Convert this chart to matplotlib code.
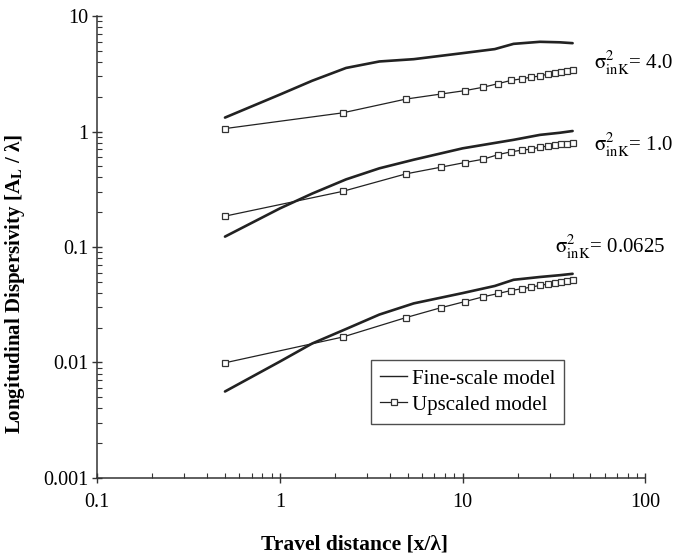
import matplotlib
matplotlib.use("Agg")
import matplotlib.pyplot as plt
from matplotlib.lines import Line2D
from matplotlib.ticker import LogLocator, NullFormatter, FixedLocator, FixedFormatter

plt.rcParams["font.family"] = ["Liberation Serif", "DejaVu Serif"]
plt.rcParams["mathtext.fontset"] = "stix"

# Upscaled model (square markers)
x_up = [0.5, 2.2, 4.9, 7.6, 10.3, 13.0, 15.7, 18.4, 21.1, 23.8, 26.5, 29.2, 31.9, 34.6, 37.3, 40.0]
up_40 = [1.06, 1.45, 1.91, 2.11, 2.26, 2.42, 2.60, 2.77, 2.86, 2.96, 3.02, 3.14, 3.20, 3.29, 3.33, 3.40]
up_10 = [0.185, 0.303, 0.430, 0.491, 0.539, 0.576, 0.632, 0.667, 0.690, 0.704, 0.733, 0.747, 0.762, 0.778, 0.787, 0.798]
up_00625 = [0.00994, 0.0166, 0.0245, 0.0298, 0.0337, 0.0371, 0.0396, 0.0420, 0.0435, 0.0450, 0.0465, 0.0477,
            0.0490, 0.0500, 0.0510, 0.0523]

# Fine-scale model (solid lines)
x_fine = [0.5, 1.0, 1.5, 2.3, 3.5, 5.4, 10, 15, 19, 26.5, 34, 40]
fine_40 = [1.32, 2.09, 2.75, 3.55, 4.04, 4.23, 4.77, 5.17, 5.74, 5.98, 5.92, 5.82]
fine_10 = [0.123, 0.216, 0.290, 0.385, 0.48, 0.57, 0.715, 0.796, 0.847, 0.935, 0.975, 1.01]
fine_00625 = [0.00561, 0.0102, 0.0146, 0.0195, 0.026, 0.0325, 0.0399, 0.046, 0.052, 0.055, 0.057, 0.0586]

x_ticks = [0.1, 1, 10, 100]
x_tick_labels = ["0.1", "1", "10", "100"]
y_ticks = [0.001, 0.01, 0.1, 1, 10]
y_tick_labels = ["0.001", "0.01", "0.1", "1", "10"]

fig = plt.figure(figsize=(6.74, 5.56), dpi=100)
ax = fig.add_axes([0.1444, 0.1403, 0.813, 0.8309])

for fine in [fine_40, fine_10, fine_00625]:
    ax.plot(x_fine, fine, color="#222222", lw=1.9, solid_capstyle="round")
for up in [up_40, up_10, up_00625]:
    ax.plot(x_up, up, color="#222222", lw=0.9, marker="s", markersize=5,
            markerfacecolor="white", markeredgecolor="#333333", markeredgewidth=0.9)

ax.set_xscale("log")
ax.set_yscale("log")
ax.set_xlim(0.1, 100)
ax.set_ylim(0.001, 10)

ax.xaxis.set_major_locator(FixedLocator(x_ticks))
ax.xaxis.set_major_formatter(FixedFormatter(x_tick_labels))
ax.yaxis.set_major_locator(FixedLocator(y_ticks))
ax.yaxis.set_major_formatter(FixedFormatter(y_tick_labels))
ax.xaxis.set_minor_locator(LogLocator(base=10, subs=range(2, 10)))
ax.yaxis.set_minor_locator(LogLocator(base=10, subs=range(2, 10)))
ax.xaxis.set_minor_formatter(NullFormatter())
ax.yaxis.set_minor_formatter(NullFormatter())

for side in ["top", "right"]:
    ax.spines[side].set_visible(False)
for side in ["left", "bottom"]:
    ax.spines[side].set_linewidth(1.1)
    ax.spines[side].set_color("#333333")

ax.tick_params(which="major", direction="inout", length=7, width=1.0, labelsize=14.5, color="#333333")
ax.tick_params(axis="x", which="major", pad=7)
ax.tick_params(axis="y", which="major", pad=3)
ax.tick_params(which="minor", direction="in", length=3.5, width=0.8, color="#333333")

ax.set_xlabel("Travel distance [x/λ]", fontsize=15.5, fontweight="bold")
ax.xaxis.set_label_coords(0.47, -0.122)
ax.set_ylabel(r"Longitudinal Dispersivity [A$_{\mathbf{L}}$ / λ]", fontsize=15, fontweight="bold")
ax.yaxis.set_label_coords(-0.128, 0.42)

# curve annotations
lab_fmt = r"$\mathrm{\sigma}^{2}_{\mathrm{inK}}$= {}"
fig.text(594 / 674, 1 - 63 / 556, lab_fmt.replace("{}", "4.0"), fontsize=15, va="center", ha="left")
fig.text(594 / 674, 1 - 145 / 556, lab_fmt.replace("{}", "1.0"), fontsize=15, va="center", ha="left")
fig.text(555 / 674, 1 - 247 / 556, lab_fmt.replace("{}", "0.0625"), fontsize=15, va="center", ha="left")

handles = [
    Line2D([], [], color="#222222", lw=1.0),
    Line2D([], [], color="#222222", lw=0.9, marker="s", markersize=5,
           markerfacecolor="white", markeredgecolor="#333333", markeredgewidth=0.9),
]
leg = ax.legend(handles, ["Fine-scale model", "Upscaled model"], loc="upper left",
                bbox_to_anchor=(0.4995, 0.256),
                fontsize=15, frameon=True, fancybox=False, borderpad=0.45, numpoints=1,
                handlelength=1.3, handletextpad=0.2, labelspacing=0.3, borderaxespad=0)
leg.get_frame().set_edgecolor("#222222")
leg.get_frame().set_linewidth(1.0)

fig.savefig("out.png", dpi=100)
